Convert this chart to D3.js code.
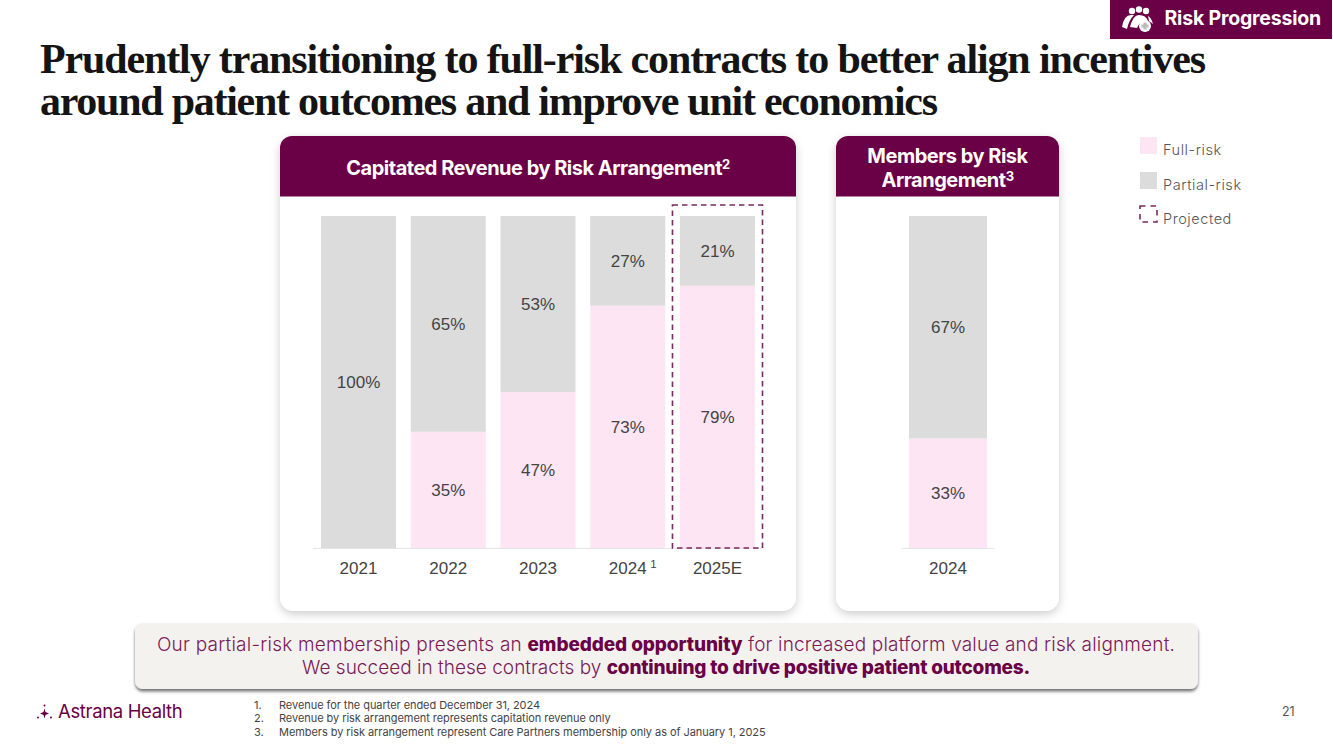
<!DOCTYPE html>
<html><head><meta charset="utf-8">
<script src="https://cdn.jsdelivr.net/npm/d3@7"></script>
<style>html,body{margin:0;padding:0;background:#fff}svg{display:block}</style></head>
<body><svg id="c" width="1333" height="749"></svg>
<script>
const years = ["2021","2022","2023","2024","2025E"];
const fullRisk = [0,35,47,73,79];
const partialRisk = [100,65,53,27,21];
const memberYears = ["2024"];
const memberFull = [33];
const memberPartial = [67];
const titleLines = ["Prudently transitioning to full-risk contracts to better align incentives","around patient outcomes and improve unit economics"];
const legendItems = ["Full-risk","Partial-risk","Projected"];
const footnotes = ["Revenue for the quarter ended December 31, 2024","Revenue by risk arrangement represents capitation revenue only","Members by risk arrangement represent Care Partners membership only as of January 1, 2025"];

const PLUM="#6a0045", PINK="#fde5f4", GREY="#dcdcdc", INK="#444444";
const SANS="Inter, 'Open Sans', sans-serif";
const LAB="'Liberation Sans', Arial, sans-serif";
const svg=d3.select("#c");
const defs=svg.append("defs");
const f=defs.append("filter").attr("id","sh").attr("x","-10%").attr("y","-10%").attr("width","120%").attr("height","125%");
f.append("feDropShadow").attr("dx",0).attr("dy",3).attr("stdDeviation",5).attr("flood-color","#000").attr("flood-opacity",0.2);
const f2=defs.append("filter").attr("id","sh2").attr("x","-5%").attr("y","-20%").attr("width","110%").attr("height","150%");
f2.append("feDropShadow").attr("dx",0).attr("dy",2.5).attr("stdDeviation",1.5).attr("flood-color","#000").attr("flood-opacity",0.55);

function txt(x,y,s,o={}){return svg.append("text").attr("x",x).attr("y",y).text(s)
 .attr("font-family",o.ff||SANS).attr("font-size",o.fs||16).attr("font-weight",o.fw||400)
 .attr("fill",o.c||INK).attr("text-anchor",o.a||"start").attr("letter-spacing",o.ls||0);}

// section tag
svg.append("rect").attr("x",1110).attr("y",0).attr("width",222).attr("height",39).attr("fill",PLUM);
const ic=svg.append("g").attr("fill","#fff");
[[1132,11,3.2],[1139,9.5,3.2],[1146,11,3.2]].forEach(d=>ic.append("circle").attr("cx",d[0]).attr("cy",d[1]).attr("r",d[2]));
ic.append("path").attr("d","M1122 27 Q1124 15 1131 15 L1134 15 Q1129 20 1127 29 Z");
ic.append("path").attr("d","M1130 27 Q1133 15 1139 15 Q1146 15 1148 21 Q1140 20 1137 28 Z");
ic.append("path").attr("d","M1148 16 Q1151 17 1153 24 L1149 21 Z");
ic.append("circle").attr("cx",1145).attr("cy",26).attr("r",6);
ic.append("path").attr("d","M1143.5 22.5h3v2h2v3h-2v2h-3v-2h-2v-3h2z").attr("fill","#bbb");
txt(1164.5,25,"Risk Progression",{fs:19.5,fw:700,c:"#fff",ls:-0.2});

// title
titleLines.forEach((t,i)=>txt(40,[73,115][i],t,{ff:"'Liberation Serif',serif",fs:42,fw:700,c:"#141414",ls:[-1.13,-1.26][i]}));

// cards
function card(x,w){
 svg.append("rect").attr("x",x).attr("y",136).attr("width",w).attr("height",475).attr("rx",14).attr("fill","#fff").attr("filter","url(#sh)");
 svg.append("path").attr("d",`M${x} 196.5V148a12 12 0 0 1 12-12H${x+w-12}a12 12 0 0 1 12 12V196.5Z`).attr("fill",PLUM);
}
card(280,516);card(836,223);
const head={fs:20,fw:700,c:"#fff",a:"middle",ls:-0.5};
const h1=txt(538,175,"Capitated Revenue by Risk Arrangement",head);
h1.append("tspan").text("2").attr("font-size",13).attr("dy",-6);
txt(947.5,163,"Members by Risk",head);
const h2=txt(947.5,187,"Arrangement",head);
h2.append("tspan").text("3").attr("font-size",13).attr("dy",-6);

// charts
const y=d3.scaleLinear().domain([0,100]).range([548,216]);
function chart(cats,full,part,x,axisRange,dy){
 const g=svg.append("g");
 const rows=cats.map((c,i)=>({c,full:full[i],part:part[i]}));
 const layers=d3.stack().keys(["full","part"])(rows);
 const colors={full:PINK,part:GREY};
 layers.forEach(l=>{
  g.selectAll(null).data(l.filter(d=>d[1]>d[0])).join("rect")
   .attr("x",d=>x(d.data.c)).attr("width",x.bandwidth())
   .attr("y",d=>y(d[1])).attr("height",d=>y(d[0])-y(d[1])).attr("fill",colors[l.key]);
  g.selectAll(null).data(l.filter(d=>d[1]>d[0])).join("text")
   .attr("x",d=>x(d.data.c)+x.bandwidth()/2).attr("y",d=>y((d[0]+d[1])/2)+dy)
   .attr("text-anchor","middle").attr("font-family",LAB).attr("font-size",17).attr("fill",INK)
   .text(d=>(d[1]-d[0])+"%");
 });
 const ax=svg.append("g").attr("transform","translate(0,548)").call(d3.axisBottom(x).tickSize(0).tickPadding(14));
 ax.select(".domain").attr("d",`M${axisRange[0]} 0.5H${axisRange[1]}`).attr("stroke","#e6e6e6").attr("stroke-width",1.2);
 ax.selectAll("text").attr("font-family",LAB).attr("font-size",17).attr("fill",INK);
 return ax;
}
const x1=d3.scaleBand().domain(years).range([321,755]).paddingInner(0.164);
chart(years,fullRisk,partialRisk,x1,[313,762],6);
const x2=d3.scaleBand().domain(memberYears).range([909,987]);
chart(memberYears,memberFull,memberPartial,x2,[901,995],6);
txt(x1("2024")+x1.bandwidth()-15,568,"1",{fs:11.5,ff:LAB});

// projected outline around the 2025E bar
const pad=8;
svg.append("rect").attr("x",x1("2025E")-pad+0.5).attr("y",205).attr("width",x1.bandwidth()+2*pad-1).attr("height",y(0)-205)
 .attr("fill","none").attr("stroke","#7a2a5e").attr("stroke-width",1.6).attr("stroke-dasharray","5.5 4");

// legend
const ly=[137,172,206];
legendItems.forEach((t,i)=>{
 if(i<2) svg.append("rect").attr("x",1140).attr("y",ly[i]).attr("width",17).attr("height",17).attr("fill",i?GREY:PINK);
 else svg.append("rect").attr("x",1140).attr("y",ly[i]).attr("width",17).attr("height",16).attr("fill","none").attr("stroke","#7a2a5e").attr("stroke-width",1.6).attr("stroke-dasharray","5.5 5");
 txt(1163,[155,190,224][i],t,{fs:14.5,c:"#555",ls:0.55,fw:300});
});

// callout
svg.append("rect").attr("x",135).attr("y",623).attr("width",1063).attr("height",66).attr("rx",8).attr("fill","#f4f2ee").attr("filter","url(#sh2)");
const C="#7a1a58";
const l1=txt(666,651,"Our partial-risk membership presents an ",{fs:19,c:C,a:"middle",fw:300,ls:0.23});
l1.append("tspan").text("embedded opportunity").attr("font-weight",800).attr("fill",PLUM).attr("letter-spacing",-0.1);
l1.append("tspan").text(" for increased platform value and risk alignment.").attr("letter-spacing",0.17);
const l2=txt(666,674,"We succeed in these contracts by ",{fs:19,c:C,a:"middle",fw:300,ls:0.02});
l2.append("tspan").text("continuing to drive positive patient outcomes.").attr("font-weight",800).attr("fill",PLUM).attr("letter-spacing",-0.2);

// logo
const lg=svg.append("g").attr("fill",PLUM);
lg.append("path").attr("d","M44.5 708.5 L45.5 712 L49 713.5 L45.5 715 L44.5 718.5 L43.5 715 L40 713.5 L43.5 712 Z");
lg.append("circle").attr("cx",44.5).attr("cy",705.5).attr("r",1);
lg.append("circle").attr("cx",38).attr("cy",717.5).attr("r",1);
lg.append("circle").attr("cx",51).attr("cy",717.5).attr("r",1);
txt(58,718,"Astrana Health",{fs:18.5,c:PLUM,ls:-0.35});

// footnotes
footnotes.forEach((t,i)=>{
 const b=[709,722,736][i];
 txt(254,b,(i+1)+".",{fs:11,c:"#444"});
 txt(279,b,t,{fs:11,c:"#444",ls:-0.06});
});
txt(1282,716,"21",{fs:12.5,c:"#555"});
</script></body></html>
